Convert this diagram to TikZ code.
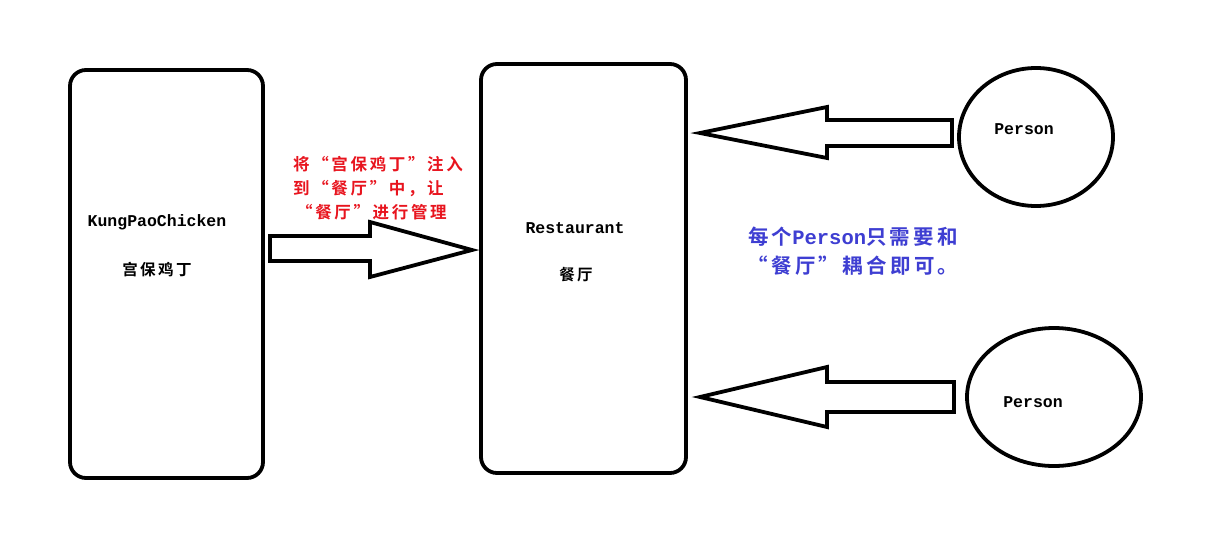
\documentclass[tikz,border=0pt]{standalone}
\usepackage{fontspec}
\newfontfamily\cjk{Noto Sans CJK SC}[BoldFont={* Bold},LetterSpace=16]
\newfontfamily\monob{Liberation Mono Bold}
\definecolor{txtred}{HTML}{E8141E}
\definecolor{txtblue}{HTML}{3E3ED2}
\begin{document}
\begin{tikzpicture}[x=1pt,y=-1pt,
  box/.style={draw,line width=3.8pt,rounded corners=16pt},
  fat/.style={draw,line width=3.8pt,line join=miter},
  lat/.style={font=\monob\fontsize{16.5}{18}\selectfont,inner sep=0pt},
  han/.style={font=\cjk\bfseries\fontsize{15.5}{18}\selectfont,inner sep=0pt},
  redtxt/.style={font=\cjk\bfseries\fontsize{16.5}{24}\selectfont,text=txtred,align=left,inner sep=0pt},
  bluetxt/.style={font=\cjk\bfseries\fontsize{20.5}{29}\selectfont,text=txtblue,align=center,inner sep=0pt}]
\useasboundingbox[fill=white] (0,0) rectangle (1222,543);
% boxes
\draw[box] (70,70) rectangle (263,478);
\draw[box] (481,64) rectangle (686,473);
% circles
\draw[line width=3.8pt] (1036,137) ellipse [x radius=77,y radius=69];
\draw[line width=3.8pt] (1054,397) ellipse [x radius=87,y radius=69];
% texts
\node[lat] (t1) at (157,222) {KungPaoChicken};
\node[han] (t2) at (157,270) {宫保鸡丁};
\node[lat] (t3) at (575,228) {Restaurant};
\node[han] (t4) at (576,275) {餐厅};
\node[lat] (p1) at (1024,129) {Person};
\node[lat] (p2) at (1033,402) {Person};
\node[redtxt,anchor=west] (red) at (293,188) {将“宫保鸡丁”注入\\到“餐厅”中，让\\\hspace{3pt}“餐厅”进行管理};
\node[bluetxt] (blue) at (853,251) {每个{\monob Person}只需要和\\“餐厅”耦合即可。};
% block arrows
\draw[fat] (270,236) -- (370,236) -- (370,222) -- (472,250) -- (370,277) -- (370,261) -- (270,261) -- cycle;
\draw[fat] (952,120) -- (827,120) -- (827,107) -- (700,133) -- (827,158) -- (827,146) -- (952,146) -- cycle;
\draw[fat] (954,382) -- (827,382) -- (827,367) -- (700,397) -- (827,427) -- (827,412) -- (954,412) -- cycle;
\end{tikzpicture}
\end{document}
